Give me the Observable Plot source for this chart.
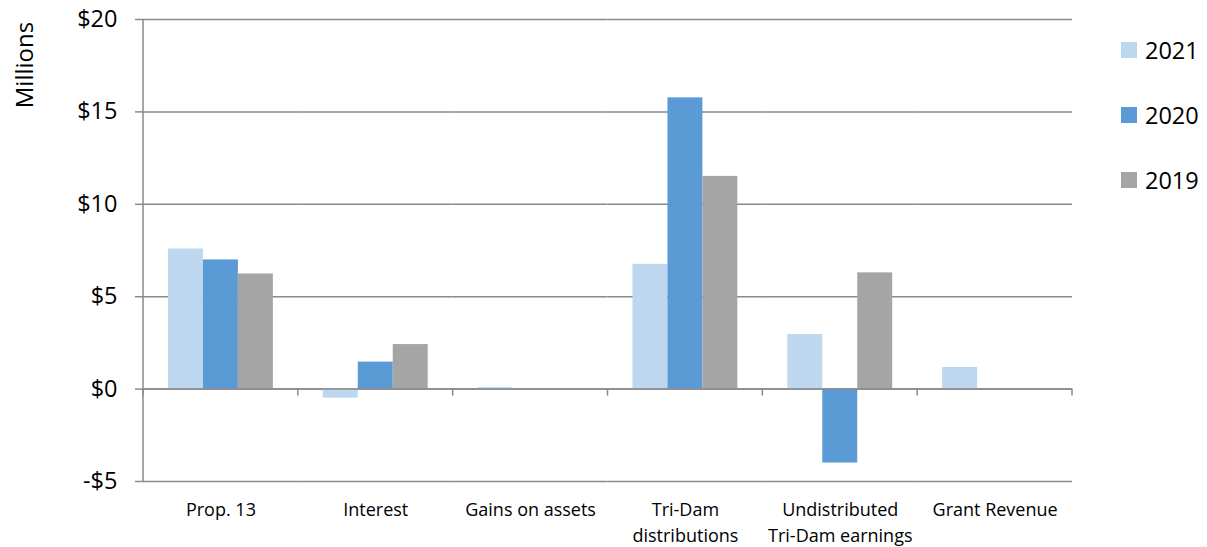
<!DOCTYPE html>
<html>
<head>
<meta charset="utf-8">
<script src="https://cdn.jsdelivr.net/npm/d3@7"></script>
<script src="https://cdn.jsdelivr.net/npm/@observablehq/plot@0.6"></script>
<style>
  html, body { margin: 0; padding: 0; background: #fff; }
  #chart { position: relative; width: 1207px; height: 547px; font-family: "Open Sans", Lato, sans-serif; }
  #ylabel { position: absolute; left: 23px; top: 65px; transform: translate(-50%, -50%) rotate(-90deg); font-size: 24px; color: #000; white-space: nowrap; }
  #legend { position: absolute; left: 1121px; top: 0; }
  .item { position: absolute; display: flex; align-items: center; white-space: nowrap; font-size: 23.5px; color: #000; }
  .swatch { width: 16px; height: 16px; margin-right: 8px; }
</style>
</head>
<body>
<div id="chart">
  <div id="ylabel">Millions</div>
  <div id="legend"></div>
</div>
<script>
// Revenue sources, in millions of dollars
const categories = ["Prop. 13", "Interest", "Gains on assets", "Tri-Dam\ndistributions", "Undistributed\nTri-Dam earnings", "Grant Revenue"];
const years = ["2021", "2020", "2019"];
const values2021 = [7.58, -0.49, 0.08, 6.75, 2.95, 1.17];
const values2020 = [6.99, 1.46, 0, 15.76, -4.0, 0];
const values2019 = [6.23, 2.41, 0, 11.51, 6.29, 0];
const yTicks = [-5, 0, 5, 10, 15, 20];
const colors = ["#BDD7EE", "#5B9BD5", "#A5A5A5"];

const series = {"2021": values2021, "2020": values2020, "2019": values2019};
const rows = years.flatMap(year => categories.map((category, i) => ({category, year, value: series[year][i]})));

const gray = "#8a8a8a";
const money = d => (d < 0 ? "-$" : "$") + Math.abs(d);

const plot = Plot.plot({
  width: 1207,
  height: 547,
  marginLeft: 143,
  marginRight: 135,
  marginTop: 19,
  marginBottom: 66,
  style: {fontFamily: "'Open Sans', Lato, sans-serif", color: "#000", background: "transparent", overflow: "visible"},
  fx: {domain: categories, padding: 0, round: false, axis: null},
  x: {domain: years, paddingInner: 0, paddingOuter: 25 / 35, round: false, axis: null},
  y: {domain: [-5, 20], axis: null},
  color: {domain: years, range: colors},
  marks: [
    Plot.ruleY(yTicks, {stroke: gray, strokeWidth: 1.5}),
    Plot.barY(rows, {fx: "category", x: "year", y: "value", fill: "year", inset: 0}),
    Plot.ruleY([0], {stroke: gray, strokeWidth: 1.5}),
    Plot.axisY(yTicks, {tickSize: 8, tickPadding: 18, stroke: gray, strokeWidth: 1.5, fontSize: 23.5, tickFormat: money, fill: "#000", label: null}),
    Plot.text(categories, {fx: d => d, text: d => d, frameAnchor: "bottom", lineAnchor: "top", dy: 17, lineHeight: 1.4, fontSize: 18, fill: "#000"})
  ]
});

// Vertical axis line and category boundary ticks, placed with the plot's own scales
const fx = plot.scale("fx");
const y = plot.scale("y");
const svg = d3.select(plot);
const g = svg.append("g").attr("stroke", gray).attr("stroke-width", 1.5);
const x0 = fx.apply(categories[0]);
g.append("line").attr("x1", x0).attr("x2", x0).attr("y1", y.apply(20)).attr("y2", y.apply(-5));
const bounds = categories.map(c => fx.apply(c)).concat([fx.apply(categories[categories.length - 1]) + fx.bandwidth]);
for (const bx of bounds) {
  g.append("line").attr("x1", bx).attr("x2", bx).attr("y1", y.apply(0)).attr("y2", y.apply(0) + 7);
}

document.getElementById("chart").prepend(plot);
plot.style.position = "absolute";
plot.style.left = "0";
plot.style.top = "0";

// Legend to the right of the plot
const legend = document.getElementById("legend");
years.forEach((year, i) => {
  const item = document.createElement("div");
  item.className = "item";
  item.style.top = (49.5 + i * 65 - 14) + "px";
  item.style.height = "28px";
  const sw = document.createElement("span");
  sw.className = "swatch";
  sw.style.background = colors[i];
  item.appendChild(sw);
  item.appendChild(document.createTextNode(year));
  legend.appendChild(item);
});
</script>
</body>
</html>
